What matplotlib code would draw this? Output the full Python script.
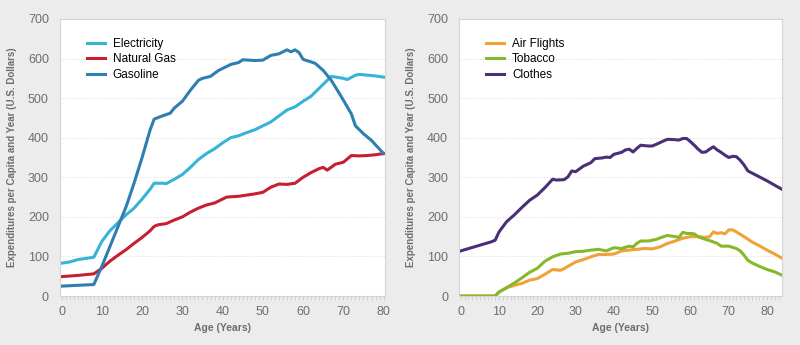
import matplotlib.pyplot as plt
from matplotlib.ticker import MultipleLocator

plt.rcParams['font.family'] = ['Liberation Sans', 'DejaVu Sans']

# Linkes Diagramm: Energie
alter_energie = [0, 2, 4, 6, 8, 10, 12, 14, 16, 18, 20, 22, 23, 25, 26, 28, 30, 32, 34, 36, 38,
                 40, 42, 44, 46, 48, 50, 52, 54, 56, 58, 60, 62, 64, 66, 67, 70, 71, 73, 74,
                 76, 78, 80]
strom = [83, 86, 92, 95, 98, 138, 165, 185, 205, 222, 245, 270, 285, 285, 284, 295, 307, 325,
         345, 360, 372, 387, 400, 405, 413, 420, 430, 440, 455, 470, 478, 492, 505, 525, 545,
         555, 550, 547, 558, 560, 558, 556, 553]

alter_gas = [0, 4, 8, 10, 12, 14, 16, 18, 20, 22, 23, 24, 26, 28, 30, 32, 34, 36, 38, 40, 41,
             44, 46, 48, 50, 52, 54, 56, 58, 60, 62, 64, 65, 66, 68, 70, 72, 74, 76, 78, 80]
erdgas = [49, 52, 56, 70, 88, 103, 117, 133, 148, 165, 176, 180, 183, 192, 200, 212, 222, 230,
          235, 245, 250, 252, 255, 258, 262, 275, 283, 282, 285, 300, 312, 322, 325, 318, 333,
          338, 355, 354, 355, 357, 360]

alter_benzin = [0, 4, 8, 10, 12, 14, 16, 18, 20, 22, 23, 25, 27, 28, 30, 32, 34, 35, 37, 39,
                42, 44, 45, 48, 50, 52, 54, 56, 57, 58, 59, 60, 63, 65, 67, 69, 70, 72, 73, 75,
                77, 80]
benzin = [25, 27, 29, 75, 125, 175, 225, 285, 350, 420, 447, 455, 462, 475, 492, 520, 545, 550,
          555, 570, 585, 590, 597, 595, 596, 608, 612, 622, 617, 622, 615, 598, 588, 570, 545,
          512, 495, 460, 430, 410, 393, 360]

# Rechtes Diagramm: Konsum
alter_flug = [0, 9, 10, 12, 14, 16, 18, 20, 22, 24, 26, 27, 28, 30, 32, 34, 36, 38, 40, 42, 44,
              46, 48, 50, 52, 54, 56, 58, 60, 62, 64, 65, 66, 67, 68, 69, 70, 71, 72, 74, 76,
              78, 80, 82, 84]
fluege = [0, 0, 10, 21, 27, 32, 40, 44, 55, 67, 65, 69, 75, 86, 92, 99, 105, 105, 106, 114,
          116, 118, 120, 119, 124, 133, 139, 146, 150, 150, 148, 150, 162, 158, 160, 157, 167,
          167, 162, 150, 137, 127, 116, 106, 95]

alter_tabak = [0, 9, 10, 12, 14, 16, 18, 20, 22, 24, 26, 28, 30, 32, 34, 36, 37, 38, 40, 42,
               44, 45, 46, 47, 49, 51, 53, 54, 56, 57, 58, 59, 60, 61, 62, 63, 65, 67, 68, 70,
               72, 73, 74, 75, 76, 78, 80, 82, 84]
tabak = [0, 0, 10, 21, 33, 46, 60, 70, 88, 99, 106, 108, 112, 113, 116, 118, 116, 114, 122,
         120, 126, 124, 133, 139, 139, 143, 150, 153, 150, 148, 161, 158, 158, 157, 150, 146,
         140, 133, 126, 126, 120, 114, 103, 90, 84, 75, 67, 61, 52]

alter_kleidung = [0, 8, 9, 10, 12, 14, 16, 18, 20, 22, 24, 25, 27, 28, 29, 30, 32, 34, 35, 37,
                  38, 39, 40, 42, 43, 44, 45, 46, 47, 49, 50, 51, 53, 54, 56, 57, 58, 59, 60,
                  61, 62, 63, 64, 65, 66, 67, 68, 69, 70, 71, 72, 73, 74, 75, 76, 78, 80, 82, 84]
kleidung = [114, 137, 141, 162, 188, 205, 224, 242, 255, 274, 295, 293, 294, 301, 316, 314, 328,
            337, 347, 349, 351, 350, 358, 363, 369, 371, 364, 373, 381, 379, 379, 383, 392, 396,
            395, 394, 398, 398, 390, 381, 371, 363, 364, 371, 377, 369, 363, 356, 350, 353, 352,
            343, 331, 316, 311, 301, 291, 280, 269]

hintergrund = '#ececec'
grau = '#6e6e6e'


def gestalte_achse(ax, xmax):
    ax.set_facecolor('white')
    ax.set_ylim(0, 700)
    ax.set_xlim(-0.4, xmax)
    ax.xaxis.set_major_locator(MultipleLocator(10))
    ax.xaxis.set_minor_locator(MultipleLocator(1))
    ax.yaxis.set_major_locator(MultipleLocator(100))
    ax.grid(axis='y', linestyle=(0, (1, 2)), color='#d6d6d6', linewidth=0.7)
    ax.set_axisbelow(True)
    for seite in ax.spines.values():
        seite.set_color('#d4d4d4')
        seite.set_linewidth(0.8)
    ax.tick_params(axis='x', which='both', length=3, color='#cfcfcf', labelsize=9,
                   labelcolor=grau, pad=4)
    ax.tick_params(axis='y', length=0, labelsize=9, labelcolor=grau, pad=8)
    ax.set_xlabel('Age (Years)', fontsize=7.5, fontweight='bold', color=grau, labelpad=4)
    ax.set_ylabel('Expenditures per Capita and Year (U.S. Dollars)', fontsize=7,
                  fontweight='bold', color=grau, labelpad=8)
    ax.legend(loc='upper left', bbox_to_anchor=(0.05, 0.97), frameon=False, fontsize=8.5,
              handlelength=1.5, handletextpad=0.7, labelspacing=0.3)


fig = plt.figure(figsize=(8, 3.45), dpi=100, facecolor=hintergrund)
links = fig.add_axes([0.075, 0.142, 0.406, 0.803])
rechts = fig.add_axes([0.574, 0.142, 0.403, 0.803])

links.plot(alter_energie, strom, color='#35b4d8', linewidth=2.2, label='Electricity')
links.plot(alter_gas, erdgas, color='#c81e32', linewidth=2.2, label='Natural Gas')
links.plot(alter_benzin, benzin, color='#2e7eb0', linewidth=2.2, label='Gasoline')
gestalte_achse(links, 80.3)

rechts.plot(alter_flug, fluege, color='#eea237', linewidth=2.2, label='Air Flights')
rechts.plot(alter_tabak, tabak, color='#86b82c', linewidth=2.2, label='Tobacco')
rechts.plot(alter_kleidung, kleidung, color='#4a2f78', linewidth=2.2, label='Clothes')
gestalte_achse(rechts, 83.8)

fig.savefig('out.png', dpi=100, facecolor=hintergrund)
